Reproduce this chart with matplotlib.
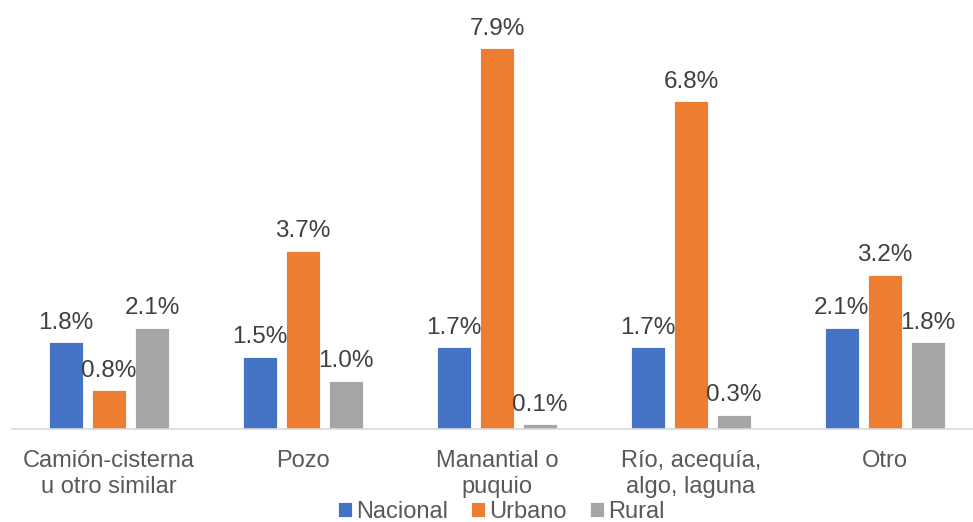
import matplotlib
matplotlib.use("Agg")
import matplotlib.pyplot as plt
import numpy as np

categories = ["Camión-cisterna\nu otro similar", "Pozo", "Manantial o\npuquio",
              "Río, acequía,\nalgo, laguna", "Otro"]
series_names = ["Nacional", "Urbano", "Rural"]
nacional = [1.8, 1.5, 1.7, 1.7, 2.1]
urbano = [0.8, 3.7, 7.9, 6.8, 3.2]
rural = [2.1, 1.0, 0.1, 0.3, 1.8]
colors = ["#4472C4", "#ED7D31", "#A5A5A5"]

plt.rcParams['font.family'] = ['Liberation Sans', 'DejaVu Sans']

fig = plt.figure(figsize=(9.73, 5.22), dpi=100)
ax = fig.add_axes([12/973, 93/522, 1 - 12/973, 0.7854])

x = np.arange(len(categories))
step = 0.222
width = 0.175
for i, (vals, name, c) in enumerate(zip([nacional, urbano, rural], series_names, colors)):
    pos = x + (i - 1) * step
    bars = ax.bar(pos, vals, width, color=c, label=name, edgecolor='white', linewidth=0.6)
    for p, v in zip(pos, vals):
        ax.annotate(f"{v:.1f}%", (p, v), xytext=(0, 6), textcoords='offset points',
                    ha='center', va='bottom', fontsize=17.5, color='#404040')

ax.set_xlim(-0.5, 4.454)
ax.set_ylim(0, 8.5)
ax.set_yticks([])
ax.set_xticks(x)
ax.set_xticklabels(categories, fontsize=17, color='#595959', linespacing=1.25)
ax.tick_params(axis='x', length=0, pad=15)
for s in ['top', 'right', 'left']:
    ax.spines[s].set_visible(False)
ax.spines['bottom'].set_color('#D9D9D9')
ax.spines['bottom'].set_linewidth(1.2)

leg = fig.legend(loc='center', bbox_to_anchor=(0.515, 0.019), ncol=3, frameon=False,
                 fontsize=17, handlelength=0.6, handleheight=0.6, handletextpad=0.15,
                 columnspacing=1.0, borderaxespad=0, borderpad=0)
for t in leg.get_texts():
    t.set_color('#595959')

fig.savefig("out.png", dpi=100)
